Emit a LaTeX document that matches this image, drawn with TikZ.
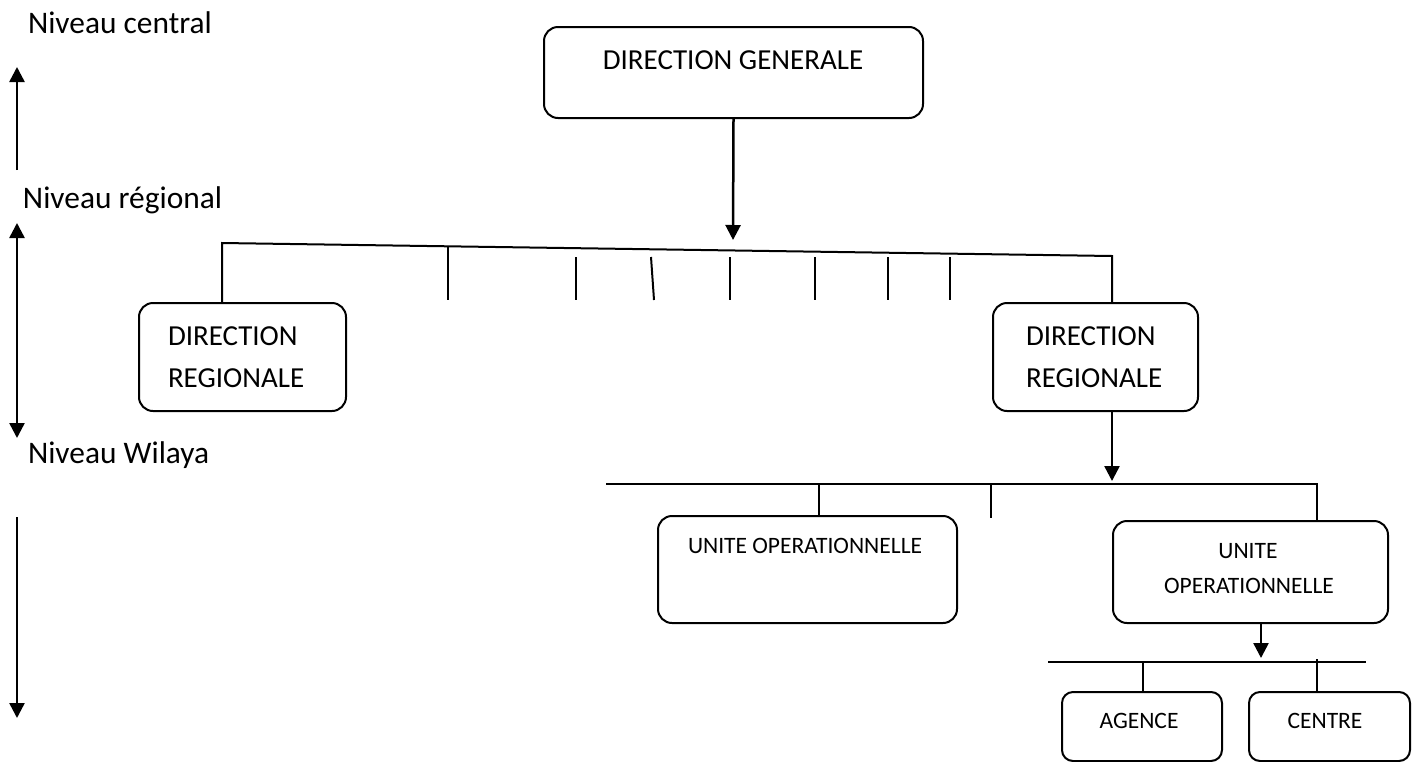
\documentclass[tikz,border=0pt]{standalone}
\usepackage{fontspec}
\setmainfont{Carlito}
\usetikzlibrary{arrows.meta}
\begin{document}
\begin{tikzpicture}[x=1pt,y=-1pt,line width=2pt,
  box/.style={draw,line width=2pt,rounded corners=14pt,inner sep=0pt,anchor=north west},
  smallbox/.style={box,rounded corners=11pt},
  lvl/.style={anchor=base west,inner sep=0pt,font=\fontsize{31.4pt}{36pt}\selectfont},
  big/.style={anchor=base,inner sep=0pt,font=\fontsize{29pt}{34pt}\selectfont},
  bigleft/.style={big,anchor=base west},
  small/.style={anchor=base,inner sep=0pt,font=\fontsize{23.5pt}{28pt}\selectfont},
  tick/.style={line width=2pt},
  arr/.style={line width=2.5pt,-{Triangle[length=15pt,width=15pt]}},
  darr/.style={line width=2.5pt,{Triangle[length=15pt,width=15pt]}-{Triangle[length=15pt,width=15pt]}}]
\fill[white] (0,0) rectangle (1418,761);
\useasboundingbox (0,0) rectangle (1418,761);

% level captions and their arrows
\node[lvl] (lcentral) at (27,33) {Niveau central};
\node[lvl] (lregional) at (22,208) {Niveau régional};
\node[lvl] (lwilaya) at (27,463) {Niveau Wilaya};
\coordinate (a1s) at (17,170); \coordinate (a1e) at (17,67);
\coordinate (a2s) at (17,223); \coordinate (a2e) at (17,438);
\coordinate (a3s) at (17,517); \coordinate (a3e) at (17,718);
\draw[arr] (a1s) -- (a1e);
\draw[darr] (a2s) -- (a2e);
\draw[arr] (a3s) -- (a3e);

% boxes
\node[box,minimum width=379pt,minimum height=91pt] (dg) at (543,26) {};
\node[box,minimum width=207pt,minimum height=108pt] (drL) at (138,302) {};
\node[box,minimum width=205pt,minimum height=108pt] (drR) at (992,302) {};
\node[box,minimum width=299pt,minimum height=107pt] (uoL) at (657,515) {};
\node[box,minimum width=275pt,minimum height=102pt] (uoR) at (1112,520) {};
\node[smallbox,minimum width=160pt,minimum height=69pt] (ag) at (1061,691) {};
\node[smallbox,minimum width=161pt,minimum height=69pt] (ce) at (1248,691) {};

% box texts
\node[big] (tdg) at (733,69) {DIRECTION GENERALE};
\node[bigleft] (tdrL1) at (167,345) {DIRECTION};
\node[bigleft] (tdrL2) at (167,387) {REGIONALE};
\node[bigleft] (tdrR1) at (1025,345) {DIRECTION};
\node[bigleft] (tdrR2) at (1025,387) {REGIONALE};
\node[small,anchor=base west] (tuoL) at (687,553) {UNITE OPERATIONNELLE};
\node[small] (tuoR1) at (1248,558) {UNITE};
\node[small] (tuoR2) at (1249,593) {OPERATIONNELLE};
\node[small] (tag) at (1139,728) {AGENCE};
\node[small] (tce) at (1325,728) {CENTRE};

% central to regional
\coordinate (j1) at (733,240);
\draw[arr] (dg.south) -- (j1);
\coordinate (b1l) at (222,243);
\coordinate (b1r) at (1112,256);
\draw (b1l |- drL.north) -- (b1l) -- (b1r) -- (b1r |- drR.north);
\draw[tick] (448,246) -- (448,300);
\draw[tick] (576,257) -- (576,300);
\draw[tick] (651,257) -- (654,300);
\draw[tick] (730,257) -- (730,300);
\draw[tick] (815,257) -- (815,300);
\draw[tick] (888,257) -- (888,300);
\draw[tick] (950,257) -- (950,300);

% regional to wilaya
\coordinate (j2) at (1112,481);
\draw[arr] (j2 |- drR.south) -- (j2);
\coordinate (b2l) at (606,484);
\coordinate (b2r) at (1317,484);
\draw (b2l) -- (b2r) -- (b2r |- uoR.north);
\coordinate (t2a) at (819,484);
\draw (t2a) -- (t2a |- uoL.north);
\draw[tick] (991,484) -- (991,518);

% operational unit to agency and centre
\coordinate (j3) at (1261,658);
\draw[arr] (j3 |- uoR.south) -- (j3);
\coordinate (b3l) at (1048,662);
\coordinate (b3r) at (1366,662);
\draw (b3l) -- (b3r);
\coordinate (t3a) at (1143,662);
\draw (t3a) -- (t3a |- ag.north);
\coordinate (t3b) at (1317,659);
\draw (t3b) -- (t3b |- ce.north);
\end{tikzpicture}
\end{document}
